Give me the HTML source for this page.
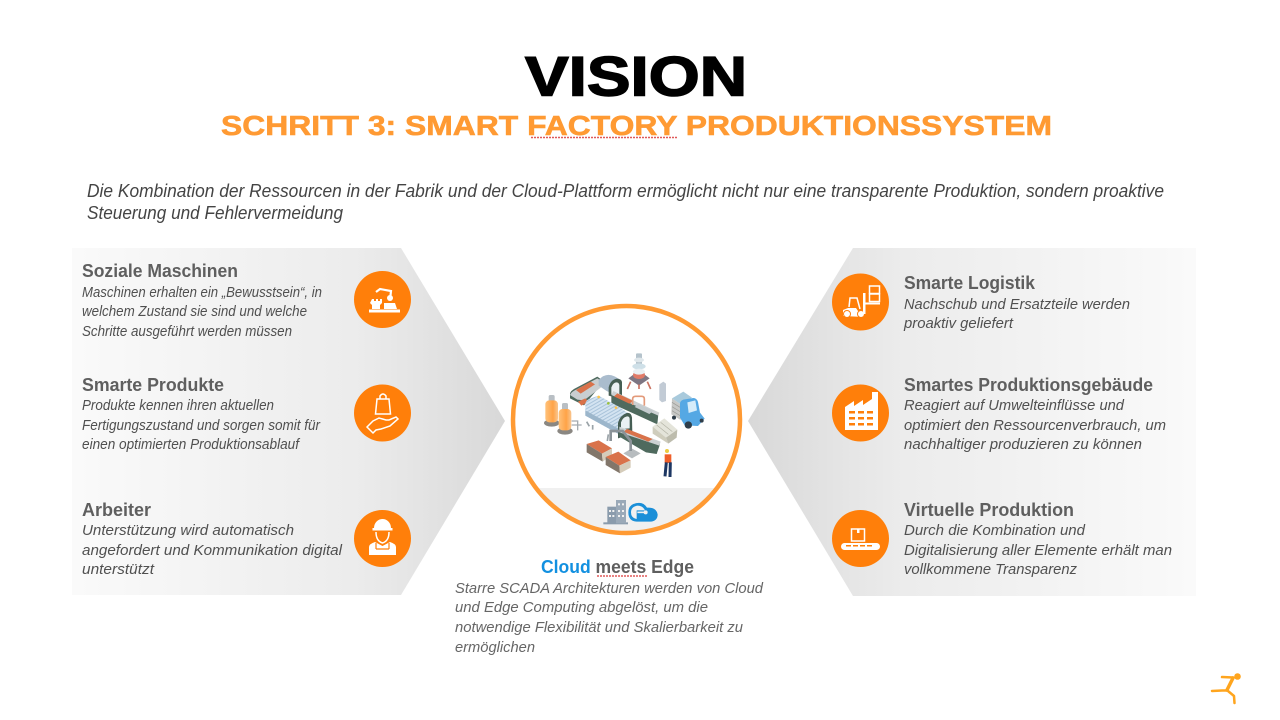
<!DOCTYPE html>
<html><head><meta charset="utf-8"><style>
html,body{margin:0;padding:0;background:#fff;width:1280px;height:720px;overflow:hidden}
svg{display:block}
text{font-family:"Liberation Sans",sans-serif}
.h{font-weight:bold;font-size:18px;fill:#5f5f5f}
.b{font-style:italic;font-size:15px;fill:#505050}
.c{font-style:italic;font-size:15px;fill:#666}
.i{font-style:italic;font-size:18.500px;fill:#444}
.w{fill:#fff}.s{fill:none;stroke:#fff;stroke-width:1.500}
</style></head><body>
<svg width="1280" height="720" viewBox="0 0 1280 720" xmlns="http://www.w3.org/2000/svg">
<defs>
<linearGradient id="gl" x1="0" x2="1" y1="0" y2="0"><stop offset="0" stop-color="#fafafa"/><stop offset=".65" stop-color="#ececec"/><stop offset=".8" stop-color="#e4e4e4"/><stop offset="1" stop-color="#d8d8d8"/></linearGradient>
<linearGradient id="gr" x1="1" x2="0" y1="0" y2="0"><stop offset="0" stop-color="#fafafa"/><stop offset=".65" stop-color="#ececec"/><stop offset=".8" stop-color="#e4e4e4"/><stop offset="1" stop-color="#d8d8d8"/></linearGradient>
<linearGradient id="tk" x1="0" x2="1" y1="0" y2="0"><stop offset="0" stop-color="#FFC27A"/><stop offset=".6" stop-color="#FFA347"/><stop offset="1" stop-color="#F9C68F"/></linearGradient>
<clipPath id="cc"><circle cx="626.500" cy="419.500" r="113"/></clipPath>
<pattern id="st" width="9" height="9" patternUnits="userSpaceOnUse" patternTransform="rotate(60)"><rect width="9" height="9" fill="#d3e3f1"/><rect width="3" height="9" fill="#a9c3da"/></pattern>
</defs>
<rect width="1280" height="720" fill="#fff"/>
<text x="525" y="95.500" font-size="56" font-weight="bold" textLength="222" lengthAdjust="spacingAndGlyphs" stroke="#000" stroke-width="1.500">VISION</text>
<text x="221" y="135" font-size="28" font-weight="bold" fill="#FF9A33" stroke="#FF9A33" stroke-width=".6" textLength="831" lengthAdjust="spacingAndGlyphs">SCHRITT 3: SMART FACTORY PRODUKTIONSSYSTEM</text>
<path d="M531 137.500h147" fill="none" stroke="#e05a5a" stroke-width="1.500" stroke-dasharray="2 1"/>
<text class="i" x="87" y="197" textLength="1077" lengthAdjust="spacingAndGlyphs">Die Kombination der Ressourcen in der Fabrik und der Cloud-Plattform ermöglicht nicht nur eine transparente Produktion, sondern proaktive</text>
<text class="i" x="87" y="219" textLength="256" lengthAdjust="spacingAndGlyphs">Steuerung und Fehlervermeidung</text>

<polygon points="72,248 401,248 505,421 401,595 72,595" fill="url(#gl)"/>
<polygon points="853,248 1196,248 1196,596 853,596 748,421" fill="url(#gr)"/>

<text class="h" x="82" y="277" textLength="156" lengthAdjust="spacingAndGlyphs">Soziale Maschinen</text>
<text class="b" x="82" y="297" textLength="240" lengthAdjust="spacingAndGlyphs">Maschinen erhalten ein „Bewusstsein“, in</text>
<text class="b" x="82" y="316" textLength="225" lengthAdjust="spacingAndGlyphs">welchem Zustand sie sind und welche</text>
<text class="b" x="82" y="336" textLength="210" lengthAdjust="spacingAndGlyphs">Schritte ausgeführt werden müssen</text>
<text class="h" x="82" y="391" textLength="142" lengthAdjust="spacingAndGlyphs">Smarte Produkte</text>
<text class="b" x="82" y="410" textLength="192" lengthAdjust="spacingAndGlyphs">Produkte kennen ihren aktuellen</text>
<text class="b" x="82" y="430" textLength="238" lengthAdjust="spacingAndGlyphs">Fertigungszustand und sorgen somit für</text>
<text class="b" x="82" y="449" textLength="217" lengthAdjust="spacingAndGlyphs">einen optimierten Produktionsablauf</text>
<text class="h" x="82" y="516" textLength="69" lengthAdjust="spacingAndGlyphs">Arbeiter</text>
<text class="b" x="82" y="535" textLength="212" lengthAdjust="spacingAndGlyphs">Unterstützung wird automatisch</text>
<text class="b" x="82" y="555" textLength="260" lengthAdjust="spacingAndGlyphs">angefordert und Kommunikation digital</text>
<text class="b" x="82" y="574" textLength="72" lengthAdjust="spacingAndGlyphs">unterstützt</text>

<text class="h" x="904" y="289" textLength="131" lengthAdjust="spacingAndGlyphs">Smarte Logistik</text>
<text class="b" x="904" y="309" textLength="226" lengthAdjust="spacingAndGlyphs">Nachschub und Ersatzteile werden</text>
<text class="b" x="904" y="328" textLength="109" lengthAdjust="spacingAndGlyphs">proaktiv geliefert</text>
<text class="h" x="904" y="391" textLength="249" lengthAdjust="spacingAndGlyphs">Smartes Produktionsgebäude</text>
<text class="b" x="904" y="410" textLength="220" lengthAdjust="spacingAndGlyphs">Reagiert auf Umwelteinflüsse und</text>
<text class="b" x="904" y="430" textLength="262" lengthAdjust="spacingAndGlyphs">optimiert den Ressourcenverbrauch, um</text>
<text class="b" x="904" y="449" textLength="238" lengthAdjust="spacingAndGlyphs">nachhaltiger produzieren zu können</text>
<text class="h" x="904" y="516" textLength="170" lengthAdjust="spacingAndGlyphs">Virtuelle Produktion</text>
<text class="b" x="904" y="535" textLength="181" lengthAdjust="spacingAndGlyphs">Durch die Kombination und</text>
<text class="b" x="904" y="555" textLength="268" lengthAdjust="spacingAndGlyphs">Digitalisierung aller Elemente erhält man</text>
<text class="b" x="904" y="574" textLength="173" lengthAdjust="spacingAndGlyphs">vollkommene Transparenz</text>

<text class="h" x="541" y="573" textLength="153" lengthAdjust="spacingAndGlyphs"><tspan fill="#1290E0">Cloud</tspan> meets Edge</text>
<path d="M597 576h51" fill="none" stroke="#e05a5a" stroke-width="1.500" stroke-dasharray="2 1"/>
<text class="c" x="455" y="593" textLength="308" lengthAdjust="spacingAndGlyphs">Starre SCADA Architekturen werden von Cloud</text>
<text class="c" x="455" y="612" textLength="253" lengthAdjust="spacingAndGlyphs">und Edge Computing abgelöst, um die</text>
<text class="c" x="455" y="632" textLength="288" lengthAdjust="spacingAndGlyphs">notwendige Flexibilität und Skalierbarkeit zu</text>
<text class="c" x="455" y="652" textLength="80" lengthAdjust="spacingAndGlyphs">ermöglichen</text>

<!-- center circle -->
<circle cx="626.500" cy="419.500" r="113.500" fill="#fff"/>
<rect x="510" y="488" width="234" height="50" fill="#f0f0f0" clip-path="url(#cc)"/>
<circle cx="626.500" cy="419.500" r="113.500" fill="none" stroke="#FF9A33" stroke-width="4.500"/>

<!-- factory illustration: 3x coordinates from (540,345) -->
<g transform="translate(540 345) scale(.33333)">
<ellipse cx="35" cy="234" rx="23" ry="11" fill="#8a8782"/>
<rect x="26" y="150" width="18" height="20" rx="5" fill="#b9bfc4"/>
<rect x="16" y="166" width="38" height="66" rx="12" fill="url(#tk)"/>
<ellipse cx="75" cy="258" rx="23" ry="11" fill="#8a8782"/>
<rect x="66" y="174" width="18" height="22" rx="5" fill="#b9bfc4"/>
<rect x="56" y="192" width="38" height="64" rx="12" fill="url(#tk)"/>
<path d="M95 228h18v28M95 240h30" fill="none" stroke="#a4abb0" stroke-width="4"/>
<path d="M90 160l0-15q3-8 14-14l68-36 20 14-60 72z" fill="#4f6a5e"/>
<path d="M90 150q3-8 14-14l68-36 26 16-66 50-20-2z" fill="#c9ced0"/>
<polygon points="108,135 152,110 165,118 122,146" fill="#d9724a"/>
<polygon points="114,170 136,160 146,170 124,182" fill="#d9724a"/>
<path d="M176 105q28-32 68 3l2 52-46-22-24-16z" fill="#aabccd"/>
<path d="M206 152v-25q5-22 24-26 14 0 16 10v52z" fill="#465e54"/>
<path d="M214 148v-20q4-14 14-16 9 0 10 8v34z" fill="#eaf0f3"/>
<polygon points="214,150 355,208 352,238 214,175" fill="#4f6a5e"/>
<polygon points="220,138 358,203 355,212 214,150" fill="#ccd1d3"/>
<polygon points="232,145 280,168 268,176 222,154" fill="#d9724a"/>
<polygon points="295,177 340,198 328,207 284,186" fill="#c4cbce"/>
<path d="M278 180v-18q0-8 9-8h18q8 0 8 8v20" fill="none" stroke="#e39a7a" stroke-width="5"/>
<path d="M136 206v-30q2-12 16-16l24-8 62 34 34 24-38 56-98-54z" fill="url(#st)"/>
<polygon points="136,196 234,250 234,266 136,212" fill="#9cb6cb"/>
<circle cx="176" cy="156" r="4" fill="#FFC44A"/><circle cx="205" cy="175" r="4" fill="#9ac13c"/><circle cx="228" cy="188" r="4" fill="#FFC44A"/>
<path d="M234 262v-28q5-22 26-30 14-2 16 14l1 48-43 14z" fill="#465e54"/>
<path d="M243 252v-20q5-15 18-18 8 0 8 8v28z" fill="#eaf0f3"/>
<path d="M140 230l8 14M158 240v14M205 268l-3 20" stroke="#9aa3a8" stroke-width="5" fill="none"/>
<polygon points="238,262 360,298 350,327 318,322 238,275" fill="#4f6a5e"/>
<polygon points="238,245 362,290 358,302 238,262" fill="#ccd1d3"/>
<polygon points="262,252 338,282 325,290 250,260" fill="#d9724a"/>
<polygon points="250,325 275,310 302,325 276,340" fill="#b7bcbf"/>
<path d="M272 318v-30l-24-30h-36v30" fill="none" stroke="#8b9398" stroke-width="8"/>
<rect x="288" y="25" width="18" height="60" rx="3" fill="#b5c3cc"/>
<ellipse cx="297" cy="45" rx="15" ry="7" fill="#dfe7eb"/>
<ellipse cx="297" cy="64" rx="20" ry="9" fill="#cfe0e8"/>
<path d="M265 100l32-24 32 24-32 22z" fill="#7d7683"/>
<ellipse cx="297" cy="90" rx="18" ry="12" fill="#e07a68"/>
<ellipse cx="297" cy="80" rx="18" ry="9" fill="#e9eff3"/>
<path d="M272 110l-10 22M322 110l10 22M297 118v14" stroke="#c97362" stroke-width="5" fill="none"/>
<polygon points="358,118 370,110 378,116 378,168 366,172 358,165" fill="#c2cbd5"/>
<polygon points="396,160 430,140 456,158 422,178" fill="#a9cadc"/>
<polygon points="396,160 422,178 422,225 394,208" fill="#c7c8c6"/>
<path d="M396 172l26 16M396 185l26 16M396 197l26 16" stroke="#9b9b96" stroke-width="2"/>
<path d="M420 218v-42q0-8 10-12l30-5q10 0 14 12l6 32 14 18-20 22-40-2z" fill="#55a8e4"/>
<polygon points="442,172 466,166 471,196 446,204" fill="#d5ecfa"/>
<circle cx="445" cy="240" r="11" fill="#2f3e4a"/><circle cx="485" cy="227" r="6" fill="#2f3e4a"/><circle cx="402" cy="218" r="6" fill="#2f3e4a"/>
<polygon points="338,245 373,220 412,254 378,278" fill="#e4e4da"/>
<polygon points="338,245 378,278 385,296 338,266" fill="#cfcdbd"/>
<polygon points="378,278 412,254 410,278 385,296" fill="#bdbcad"/>
<path d="M350 240l35 28M362 232l35 28" stroke="#b2b2a4" stroke-width="2"/>
<polygon points="140,297 176,286 216,310 186,326" fill="#d9724a"/>
<polygon points="140,297 186,326 188,350 140,322" fill="#82766a"/>
<polygon points="186,326 216,310 216,330 188,350" fill="#d5ccba"/>
<polygon points="197,336 235,320 272,346 238,362" fill="#d9724a"/>
<polygon points="197,336 238,362 240,385 197,360" fill="#82766a"/>
<polygon points="238,362 272,346 272,368 240,385" fill="#d5ccba"/>
<circle cx="381" cy="318" r="6" fill="#eccb40"/>
<rect x="374" y="328" width="20" height="26" fill="#ef5f2a"/>
<path d="M379 352l-4 42M391 352l-1 44" stroke="#1d3763" stroke-width="9"/>
</g>

<!-- band icons -->
<g transform="translate(500 295) scale(.33333)">
<rect x="310" y="682" width="74" height="6" fill="#8a9bac"/>
<rect x="322" y="635" width="26" height="50" fill="#8a9bac"/>
<rect x="348" y="615" width="30" height="70" fill="#9aa9b8"/>
<g fill="#f0f0f0"><rect x="327" y="645" width="6" height="6"/><rect x="337" y="645" width="6" height="6"/><rect x="327" y="660" width="6" height="6"/><rect x="337" y="660" width="6" height="6"/><rect x="354" y="625" width="6" height="6"/><rect x="366" y="625" width="6" height="6"/><rect x="354" y="645" width="6" height="6"/><rect x="366" y="645" width="6" height="6"/><rect x="354" y="660" width="6" height="6"/><rect x="366" y="660" width="6" height="6"/></g>
<path d="M410 680q-25-2-25-28t28-28q18-2 28 14q28-2 32 20q0 20-22 22z" fill="#1b8fd8"/>
<path d="M410 672q-17-3-17-20t20-20q15 0 22 14h-25" fill="#f0f0f0"/>
<path d="M412 652h22" stroke="#f0f0f0" stroke-width="5"/><circle cx="437" cy="652" r="6" fill="#f0f0f0"/>
</g>

<!-- icon discs -->
<g fill="#FF7F0A">
<circle cx="382.500" cy="299.500" r="28.500"/><circle cx="382.500" cy="413" r="28.500"/><circle cx="382.500" cy="538.500" r="28.500"/>
<circle cx="860.500" cy="302" r="28.500"/><circle cx="860.500" cy="413" r="28.500"/><circle cx="860.500" cy="538.500" r="28.500"/>
</g>
<!-- robot -->
<g>
<rect x="369" y="309.500" width="31" height="3" class="w"/>
<path class="w" d="M372 299h2v2h2v-2h2v2h2v-2h2v4l-2 2v4h-8v-4l-2-2z"/>
<path class="w" d="M384 303h11l2 6h-13z"/>
<path d="M390 300l1-9-11-2-4 3" fill="none" stroke="#fff" stroke-width="2.200"/>
<circle cx="390" cy="298" r="3" class="w"/>
</g>
<!-- bag hand -->
<g>
<path class="s" d="M377 399h12l1.500 15h-15z"/><path class="s" d="M380 399v-3q3-4 6 0v3"/>
<path class="s" d="M367 427l6-6 6-3 7 2h3l7-3 2 2-8 7-9 3-5 1-3 3z"/>
</g>
<!-- worker -->
<g>
<path class="w" d="M374 528a8.500 9 0 0 1 17 0h1.500v2.500h-20v-2.500z"/>
<path class="s" d="M376 532q0 9 6.500 11q6.500-2 6.500-11"/>
<path class="w" d="M369 555v-8q0-3 6-5l7.500 4 7.500-4q6 2 6 5v8z"/>
<path d="M376 543v6M389 543v6M376 549h13" fill="none" stroke="#FF7F0A" stroke-width="1.200"/>
</g>
<!-- forklift -->
<g>
<path class="w" d="M843 316v-6l5-2h8l2 3h6v6z"/>
<path class="s" d="M849 307l1-9h7l3 11"/>
<circle cx="847" cy="314" r="3.500" class="w" stroke="#FF7F0A"/><circle cx="861" cy="314" r="3.500" class="w" stroke="#FF7F0A"/>
<rect x="863" y="293" width="2.500" height="21" class="w"/><rect x="865" y="302.500" width="15" height="2" class="w"/>
<rect x="869.500" y="286" width="10" height="7.500" class="s"/><rect x="869.500" y="294" width="10" height="7.500" class="s"/>
</g>
<!-- factory -->
<path class="w" d="M845 430v-23l9-6v5l9-6v5l9-6v-7h6v38z"/>
<g fill="#FF7F0A"><rect x="849" y="411" width="6" height="2.500"/><rect x="858" y="411" width="6" height="2.500"/><rect x="867" y="411" width="6" height="2.500"/><rect x="849" y="417" width="6" height="2.500"/><rect x="858" y="417" width="6" height="2.500"/><rect x="867" y="417" width="6" height="2.500"/><rect x="849" y="423" width="6" height="2.500"/><rect x="858" y="423" width="6" height="2.500"/><rect x="867" y="423" width="6" height="2.500"/></g>
<!-- conveyor -->
<g>
<rect x="841" y="543" width="39" height="7" rx="3.500" class="w"/>
<g fill="#FF7F0A"><rect x="846" y="545" width="5" height="1.500"/><rect x="853" y="545" width="5" height="1.500"/><rect x="860" y="545" width="5" height="1.500"/><rect x="867" y="545" width="5" height="1.500"/></g>
<rect x="851.500" y="529" width="13" height="12" class="s"/><rect x="857" y="529" width="2.500" height="4" class="w"/>
</g>
<!-- runner logo -->
<g fill="none" stroke="#FFA51E" stroke-linecap="round" stroke-linejoin="round">
<path d="M1222 677l11 0.500-6 13 -5 0-10 0.500" stroke-width="2.500"/>
<path d="M1233 678l-6 12" stroke-width="3.500"/>
<path d="M1228 691l6 5 .5 7" stroke-width="2.500"/>
</g>
<circle cx="1237.500" cy="676.500" r="3.300" fill="#FFA51E"/>
</svg>
</body></html>
